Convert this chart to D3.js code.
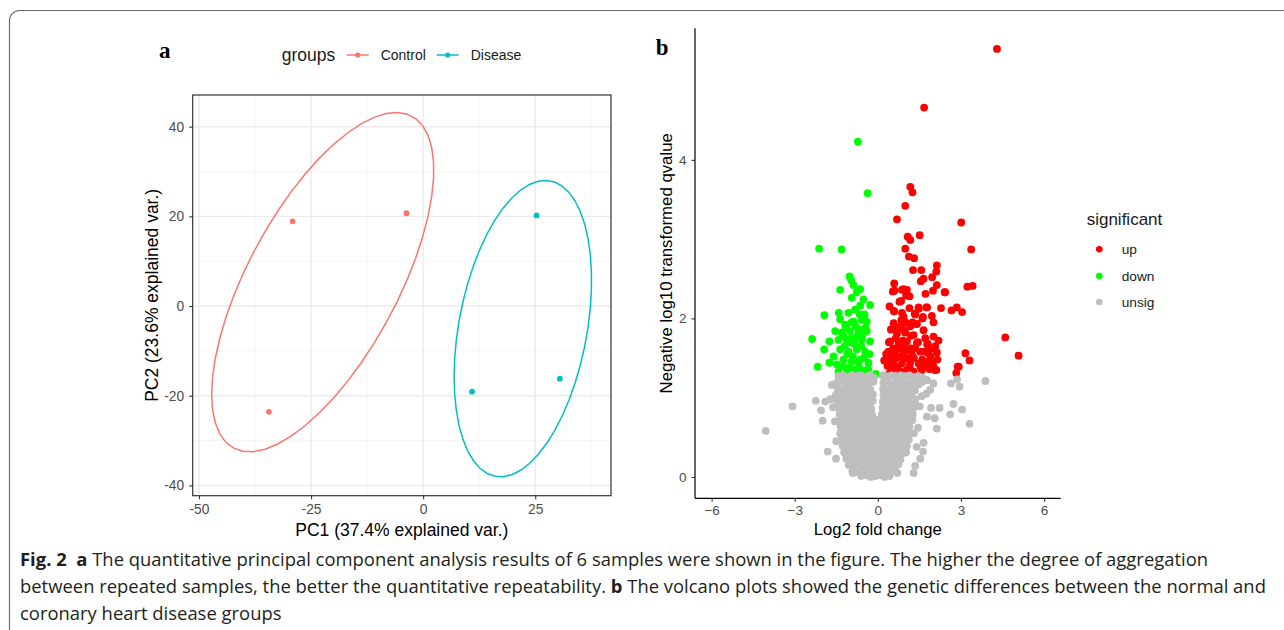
<!DOCTYPE html>
<html>
<head>
<meta charset="utf-8">
<script src="https://cdn.jsdelivr.net/npm/d3@7"></script>
<style>
  body { margin: 0; background: #fff; }
  svg { display: block; }
</style>
</head>
<body>
<svg id="fig" width="1284" height="630"></svg>
<script>
// ---------- Panel a: PCA scores ----------
const groups = ["Control", "Disease"];
const groupColors = ["#F8766D", "#00BFC4"];
const pcaControl = [[-29.1, 18.9], [-3.7, 20.7], [-34.4, -23.6]];
const pcaDisease = [[25.3, 20.2], [10.9, -19.1], [30.5, -16.2]];
const pcaXTicks = [-50, -25, 0, 25];
const pcaYTicks = [-40, -20, 0, 20, 40];
const pcaXMinor = [-37.5, -12.5, 12.5, 37.5];
const pcaYMinor = [-30, -10, 10, 30];

// ---------- Panel b: volcano plot (log2 fold change, -log10 qvalue) ----------
const volcanoUp = [
  [4.30,5.40],[1.67,4.66],[1.17,3.66],[1.25,3.59],[0.99,3.42],[0.69,3.25],[3.01,3.21],[1.51,3.05],
  [1.08,3.03],[1.17,2.99],[0.99,2.88],[3.37,2.87],[1.12,2.78],[1.31,2.76],[1.27,2.61],[1.57,2.61],
  [2.13,2.67],[2.11,2.59],[1.96,2.52],[1.65,2.50],[1.55,2.47],[0.59,2.44],[2.13,2.42],[3.42,2.41],
  [3.23,2.40],[0.87,2.36],[1.05,2.36],[1.99,2.35],[2.41,2.33],[0.60,2.35],[1.72,2.31],[1.02,2.29],
  [0.93,2.37],[0.54,2.34],[1.14,2.28],[0.84,2.22],[2.43,2.33],
  [0.42,2.15],[0.59,2.09],[0.87,2.07],[1.14,2.13],[1.47,2.14],[1.78,2.14],[2.28,2.13],[2.85,2.14],
  [2.66,2.10],[3.04,2.08],[1.35,2.05],[1.63,2.02],[1.95,2.03],[2.01,1.95],[0.93,2.02],[0.57,1.94],
  [0.87,1.92],[1.17,1.90],[1.41,1.93],[0.47,1.86],[0.69,1.81],[0.99,1.82],[1.29,1.79],[1.71,1.75],
  [2.01,1.77],[2.19,1.72],[0.45,1.71],[0.75,1.69],[1.05,1.71],[1.41,1.69],[1.78,1.67],[2.07,1.65],
  [0.38,1.58],[0.62,1.56],[0.93,1.58],[1.23,1.54],[1.53,1.58],[1.83,1.56],[2.13,1.57],[0.23,1.47],
  [0.57,1.45],[0.87,1.43],[1.17,1.45],[1.47,1.43],[1.71,1.45],[1.95,1.44],[0.51,1.35],[0.81,1.33],
  [1.05,1.35],[1.29,1.33],[1.59,1.35],[1.86,1.36],[2.11,1.35],[2.88,1.39],[2.83,1.31],[4.60,1.76],
  [5.08,1.53],[3.16,1.56],[3.31,1.47],[2.92,1.39],[0.42,1.31],[2.06,1.35],[1.39,1.93],[0.58,2.09],
  [1.33,2.06],[1.61,2.00],[0.78,2.21],[1.48,2.12],[1.75,2.14],
  [0.35,1.40],[0.45,1.52],[0.55,1.62],[0.65,1.75],[0.75,1.88],[0.85,1.98],[0.95,1.65],[1.00,1.50],
  [1.10,1.60],[1.20,1.78],[1.25,1.95],[0.70,1.38],[0.80,1.52],[0.90,1.72],[1.30,1.50],[1.35,1.62],
  [1.60,1.48],[1.70,1.58],[1.80,1.68],[1.90,1.52],[2.00,1.40],[2.05,1.62],[1.45,1.70],[0.60,1.90],
  [0.50,1.45],[0.40,1.70],[1.15,1.40],[1.55,1.38],[1.65,1.85],[0.30,1.55],[0.65,1.50],[0.95,1.85],
  [1.10,1.32],[0.70,1.62],[1.00,1.95],[1.20,1.62],[0.85,1.62],[1.75,1.40],[1.88,1.62],[2.15,1.48]
];
const volcanoDown = [
  [-0.72,4.23],[-0.37,3.58],[-2.12,2.88],[-1.31,2.87],[-1.02,2.53],[-0.96,2.48],[-0.88,2.42],[-1.36,2.36],
  [-0.64,2.37],[-0.76,2.33],[-0.94,2.26],[-0.52,2.24],[-0.28,2.17],[-0.64,2.16],[-1.93,2.04],[-1.41,2.07],
  [-1.06,2.07],[-0.82,2.11],[-1.36,1.99],[-1.18,1.92],[-0.88,1.96],[-0.58,1.98],[-0.40,1.96],[-1.54,1.84],
  [-1.30,1.82],[-1.00,1.84],[-0.70,1.86],[-0.40,1.84],[-2.37,1.74],[-1.75,1.71],[-1.42,1.73],[-1.12,1.73],
  [-0.82,1.73],[-0.58,1.73],[-0.28,1.71],[-1.94,1.61],[-1.36,1.61],[-1.06,1.58],[-0.76,1.61],[-0.46,1.58],
  [-1.75,1.44],[-2.17,1.39],[-1.48,1.42],[-1.24,1.48],[-0.94,1.46],[-0.64,1.48],[-0.34,1.44],[-1.42,1.33],
  [-1.12,1.35],[-0.82,1.35],[-0.54,1.34],[-0.07,1.30],
  [-1.00,1.38],[-0.90,1.52],[-0.70,1.45],[-0.60,1.65],[-0.75,1.78],[-0.85,1.68],[-1.10,1.55],[-1.20,1.65],
  [-0.50,1.50],[-0.45,1.88],[-0.95,1.95],[-1.15,1.88],[-0.65,2.05],[-1.25,1.40],[-1.60,1.52],[-0.35,1.36],
  [-0.80,1.90],[-1.05,1.70],[-0.68,1.38],[-0.30,1.55],[-0.55,1.80],[-0.95,1.75],[-1.25,1.78],[-0.48,2.05]
];
const volcanoUnsig = [
  [-1.42,1.27],[-1.25,1.28],[-1.08,1.26],[-0.92,1.28],[-0.76,1.27],[-0.60,1.28],[-0.44,1.26],[-0.28,1.28],
  [-0.14,1.25],[0.18,1.28],[0.34,1.27],[0.50,1.28],[0.66,1.26],[0.82,1.28],[0.98,1.27],[1.14,1.28],
  [1.30,1.26],[1.46,1.27],[1.62,1.25],[1.78,1.22],
  [-1.48,1.19],[-1.31,1.20],[-1.14,1.18],[-0.97,1.20],[-0.80,1.19],[-0.63,1.20],[-0.46,1.18],[-0.30,1.19],
  [-0.16,1.20],[0.20,1.19],[0.36,1.20],[0.52,1.18],[0.68,1.20],[0.84,1.19],[1.00,1.20],[1.16,1.18],
  [1.32,1.19],[1.48,1.17],
  [-1.45,1.11],[-1.28,1.10],[-1.11,1.12],[-0.94,1.11],[-0.77,1.10],[-0.60,1.12],[-0.43,1.11],[-0.27,1.10],
  [-0.18,1.04],[0.19,1.11],[0.35,1.10],[0.52,1.12],[0.68,1.11],[0.85,1.10],[1.01,1.12],[1.18,1.11],[1.34,1.09],
  [-1.52,1.03],[-1.35,1.02],[-1.18,1.04],[-1.01,1.03],[-0.84,1.02],[-0.67,1.04],[-0.50,1.03],[-0.33,1.02],
  [0.20,1.03],[0.36,1.02],[0.53,1.04],[0.70,1.03],[0.86,1.02],[1.03,1.04],[1.20,1.01],[1.36,0.98],
  [-1.47,0.95],[-1.30,0.94],[-1.13,0.96],[-0.96,0.95],[-0.79,0.94],[-0.62,0.96],[-0.45,0.95],[-0.29,0.94],
  [-0.18,0.96],[0.18,0.95],[0.34,0.94],[0.51,0.96],[0.67,0.95],[0.84,0.94],[1.00,0.96],[1.16,0.93],[1.32,0.95],
  [-1.42,0.87],[-1.25,0.86],[-1.08,0.88],[-0.91,0.87],[-0.74,0.86],[-0.57,0.88],[-0.40,0.87],[-0.24,0.86],
  [0.17,0.87],[0.33,0.86],[0.49,0.88],[0.66,0.87],[0.82,0.86],[0.98,0.88],[1.12,0.85],[1.28,0.87],
  [-1.38,0.79],[-1.21,0.78],[-1.04,0.80],[-0.87,0.79],[-0.70,0.78],[-0.53,0.80],[-0.36,0.79],[-0.20,0.78],
  [0.14,0.79],[0.30,0.78],[0.47,0.80],[0.63,0.79],[0.80,0.78],[0.96,0.80],[1.10,0.77],[1.26,0.79],
  [-1.36,0.71],[-1.19,0.70],[-1.02,0.72],[-0.85,0.71],[-0.68,0.70],[-0.51,0.72],[-0.34,0.71],[-0.17,0.70],
  [-0.04,0.72],[0.12,0.71],[0.28,0.70],[0.45,0.72],[0.61,0.71],[0.78,0.70],[0.94,0.72],[1.06,0.69],[1.22,0.71],
  [-1.34,0.63],[-1.17,0.62],[-1.00,0.64],[-0.83,0.63],[-0.66,0.62],[-0.49,0.64],[-0.32,0.63],[-0.16,0.62],
  [0.00,0.64],[0.16,0.63],[0.32,0.62],[0.49,0.64],[0.65,0.63],[0.82,0.62],[0.98,0.64],[1.14,0.63],
  [-1.36,0.55],[-1.19,0.54],[-1.02,0.56],[-0.85,0.55],[-0.68,0.54],[-0.51,0.56],[-0.34,0.55],[-0.17,0.54],
  [0.00,0.56],[0.16,0.55],[0.33,0.54],[0.49,0.56],[0.66,0.55],[0.82,0.54],[0.97,0.56],[1.13,0.55],
  [-1.32,0.47],[-1.15,0.46],[-0.98,0.48],[-0.81,0.47],[-0.64,0.46],[-0.47,0.48],[-0.30,0.47],[-0.13,0.46],
  [0.04,0.48],[0.20,0.47],[0.37,0.46],[0.53,0.48],[0.70,0.47],[0.86,0.46],[0.96,0.48],[1.12,0.47],
  [-1.27,0.39],[-1.10,0.38],[-0.93,0.40],[-0.76,0.39],[-0.59,0.38],[-0.42,0.40],[-0.25,0.39],[-0.08,0.38],
  [0.09,0.40],[0.25,0.39],[0.42,0.38],[0.58,0.40],[0.75,0.39],[0.90,0.38],[1.05,0.39],
  [-1.22,0.31],[-1.05,0.30],[-0.88,0.32],[-0.71,0.31],[-0.54,0.30],[-0.37,0.32],[-0.20,0.31],[-0.03,0.30],
  [0.14,0.32],[0.30,0.31],[0.47,0.30],[0.63,0.32],[0.80,0.31],[0.92,0.30],[1.02,0.31],
  [-1.14,0.23],[-0.97,0.22],[-0.80,0.24],[-0.63,0.23],[-0.46,0.22],[-0.29,0.24],[-0.12,0.23],[0.05,0.22],
  [0.22,0.24],[0.38,0.23],[0.55,0.22],[0.71,0.24],[0.82,0.22],
  [-1.05,0.15],[-0.88,0.14],[-0.71,0.16],[-0.54,0.15],[-0.37,0.14],[-0.20,0.16],[-0.03,0.15],[0.14,0.14],
  [0.31,0.16],[0.47,0.15],[0.64,0.14],[0.74,0.16],
  [-0.92,0.07],[-0.75,0.06],[-0.58,0.08],[-0.41,0.07],[-0.24,0.06],[-0.07,0.08],[0.10,0.07],[0.27,0.06],
  [0.44,0.08],[0.60,0.07],[0.70,0.05],
  [-0.60,0.01],[-0.43,0.02],[-0.26,0.00],[-0.09,0.01],[0.08,0.02],[0.25,0.00],[0.42,0.01],
  [-4.05,0.58],[-3.08,0.89],[-1.99,0.71],[-2.05,0.84],[-2.24,0.96],[-1.66,1.16],[-1.81,0.32],[-1.51,0.23],
  [-0.90,0.05],[3.88,1.21],[2.95,1.14],[2.64,1.18],[2.86,1.23],[3.04,0.85],[2.73,0.92],[2.61,0.79],
  [3.31,0.67],[2.23,0.87],[2.05,0.74],[2.13,0.61],[1.92,0.87],[1.77,0.76],[1.65,0.43],[1.63,0.32],
  [1.53,0.23],[1.35,0.14],[1.29,0.05],[2.01,1.18],[1.89,1.10],[1.59,1.02],[1.51,0.89],[-1.90,0.95],
  [-1.72,0.98],[-1.62,0.88],[-1.55,0.70],[-1.50,0.45],[1.30,0.55],[1.40,0.38],[1.25,0.72],[1.45,0.62],
  [1.60,1.20],[1.75,1.05]
];
const volcanoXTicks = [-6, -3, 0, 3, 6];
const volcanoYTicks = [0, 2, 4];
const sigLevels = ["up", "down", "unsig"];
const sigColors = ["#FF0000", "#00FF00", "#BEBEBE"];

// ---------- Caption ----------
const captionLines = [
  [{t: "Fig. 2", b: true}, {t: "  a", b: true}, {t: " The quantitative principal component analysis results of 6 samples were shown in the figure. The higher the degree of aggregation", b: false}],
  [{t: "between repeated samples, the better the quantitative repeatability. ", b: false}, {t: "b", b: true}, {t: " The volcano plots showed the genetic differences between the normal and", b: false}],
  [{t: "coronary heart disease groups", b: false}]
];

const SANS = "'Liberation Sans', Arial, Helvetica, sans-serif";
const SERIF = "'Liberation Serif', 'Times New Roman', serif";
const svg = d3.select("#fig");
svg.append("rect").attr("width", 1284).attr("height", 630).attr("fill", "#fff");

// Figure frame with rounded corner
svg.append("rect")
  .attr("x", 9.5).attr("y", 10.5).attr("width", 1300).attr("height", 700)
  .attr("rx", 10).attr("fill", "none").attr("stroke", "#6b6b6b").attr("stroke-width", 1.2);

// ===== Panel a =====
const xa = d3.scaleLinear().domain([-51.4, 41.9]).range([192.7, 611]);
const ya = d3.scaleLinear().domain([-42.3, 47.07]).range([495.7, 95]);
const pa = svg.append("g");

pa.selectAll("line.gxm").data(pcaXMinor).join("line")
  .attr("x1", d => xa(d)).attr("x2", d => xa(d)).attr("y1", ya.range()[0]).attr("y2", ya.range()[1])
  .attr("stroke", "#F2F2F2").attr("stroke-width", 0.8);
pa.selectAll("line.gym").data(pcaYMinor).join("line")
  .attr("y1", d => ya(d)).attr("y2", d => ya(d)).attr("x1", xa.range()[0]).attr("x2", xa.range()[1])
  .attr("stroke", "#F2F2F2").attr("stroke-width", 0.8);
pa.selectAll("line.gx").data(pcaXTicks).join("line")
  .attr("x1", d => xa(d)).attr("x2", d => xa(d)).attr("y1", ya.range()[0]).attr("y2", ya.range()[1])
  .attr("stroke", "#EBEBEB").attr("stroke-width", 1.4);
pa.selectAll("line.gy").data(pcaYTicks).join("line")
  .attr("y1", d => ya(d)).attr("y2", d => ya(d)).attr("x1", xa.range()[0]).attr("x2", xa.range()[1])
  .attr("stroke", "#EBEBEB").attr("stroke-width", 1.4);

// 68% normal-probability ellipse around each group's scores
function normalEllipse(pts, prob = 0.68, n = 50) {
  const mx = d3.mean(pts, d => d[0]), my = d3.mean(pts, d => d[1]);
  let sxx = 0, syy = 0, sxy = 0;
  pts.forEach(([x, y]) => { sxx += (x - mx) ** 2; syy += (y - my) ** 2; sxy += (x - mx) * (y - my); });
  const k = pts.length - 1;
  sxx /= k; syy /= k; sxy /= k;
  const r11 = Math.sqrt(sxx), r12 = sxy / r11, r22 = Math.sqrt(syy - r12 * r12);
  const ed = Math.sqrt(-2 * Math.log(1 - prob)); // sqrt of chi-square quantile, 2 df
  return d3.range(n).map(i => {
    const t = -Math.PI + 2 * Math.PI * i / (n - 1);
    const c = Math.cos(t), s = Math.sin(t);
    return [mx + ed * c * r11, my + ed * (c * r12 + s * r22)];
  });
}
const pcaSets = [pcaControl, pcaDisease];
const lineA = d3.line().x(d => xa(d[0])).y(d => ya(d[1]));
pcaSets.forEach((pts, i) => {
  pa.append("path").attr("d", lineA(normalEllipse(pts)))
    .attr("fill", "none").attr("stroke", groupColors[i]).attr("stroke-width", 1.5);
});
pcaSets.forEach((pts, i) => {
  pa.selectAll(null).data(pts).join("circle")
    .attr("cx", d => xa(d[0])).attr("cy", d => ya(d[1])).attr("r", 2.9)
    .attr("fill", groupColors[i]);
});

pa.append("rect")
  .attr("x", xa.range()[0]).attr("y", ya.range()[1])
  .attr("width", xa.range()[1] - xa.range()[0]).attr("height", ya.range()[0] - ya.range()[1])
  .attr("fill", "none").attr("stroke", "#333333").attr("stroke-width", 1.2);

function styleAxis(g, labelColor, tickColor, fontSize) {
  g.select(".domain").remove();
  g.selectAll(".tick line").attr("stroke", tickColor).attr("stroke-width", 1.1);
  g.selectAll(".tick text").attr("fill", labelColor).attr("font-family", SANS).attr("font-size", fontSize);
}
pa.append("g").attr("transform", `translate(0,${ya.range()[0]})`)
  .call(d3.axisBottom(xa).tickValues(pcaXTicks).tickSize(3.5).tickPadding(5.5).tickFormat(d => String(d)))
  .call(g => styleAxis(g, "#4D4D4D", "#333333", 13.8));
pa.append("g").attr("transform", `translate(${xa.range()[0]},0)`)
  .call(d3.axisLeft(ya).tickValues(pcaYTicks).tickSize(3.5).tickPadding(5).tickFormat(d => String(d)))
  .call(g => styleAxis(g, "#4D4D4D", "#333333", 13.8));

pa.append("text").attr("x", (xa.range()[0] + xa.range()[1]) / 2).attr("y", 536)
  .attr("text-anchor", "middle").attr("font-family", SANS).attr("font-size", 17.5).attr("fill", "#000")
  .text("PC1 (37.4% explained var.)");
pa.append("text").attr("transform", `translate(158,${(ya.range()[0] + ya.range()[1]) / 2}) rotate(-90)`)
  .attr("text-anchor", "middle").attr("font-family", SANS).attr("font-size", 17.5).attr("fill", "#000")
  .text("PC2 (23.6% explained var.)");

// legend on top
const legA = svg.append("g");
legA.append("text").attr("x", 281.7).attr("y", 61).attr("font-family", SANS).attr("font-size", 17.5)
  .attr("fill", "#1a1a1a").text("groups");
const legKeyX = [346.7, 436.7], legTextX = [380.7, 470.7];
groups.forEach((g, i) => {
  legA.append("line").attr("x1", legKeyX[i]).attr("x2", legKeyX[i] + 22).attr("y1", 55).attr("y2", 55)
    .attr("stroke", groupColors[i]).attr("stroke-width", 1.5);
  legA.append("circle").attr("cx", legKeyX[i] + 11).attr("cy", 55).attr("r", 2.6).attr("fill", groupColors[i]);
  legA.append("text").attr("x", legTextX[i]).attr("y", 60).attr("font-family", SANS).attr("font-size", 14)
    .attr("fill", "#1a1a1a").text(g);
});

svg.append("text").attr("x", 159).attr("y", 58).attr("font-family", SERIF).attr("font-weight", "bold")
  .attr("font-size", 23).attr("fill", "#000").text("a");

// ===== Panel b =====
const xb = d3.scaleLinear().domain([-6.6, 6.6]).range([695, 1060.7]);
const yb = d3.scaleLinear().domain([-0.27, 5.66]).range([498.3, 28.3]);
const pb = svg.append("g");
const dotR = 3.9;

const sigSets = [volcanoUp, volcanoDown];
sigSets.forEach((pts, i) => {
  pb.selectAll(null).data(pts).join("circle")
    .attr("cx", d => xb(d[0])).attr("cy", d => yb(d[1])).attr("r", dotR).attr("fill", sigColors[i]);
});
pb.selectAll(null).data(volcanoUnsig).join("circle")
  .attr("cx", d => xb(d[0])).attr("cy", d => yb(d[1])).attr("r", dotR).attr("fill", sigColors[2]);

const minusFmt = d => (d < 0 ? "\u2212" + Math.abs(d) : String(d));
const axB = pb.append("g").attr("transform", `translate(0,${yb.range()[0]})`)
  .call(d3.axisBottom(xb).tickValues(volcanoXTicks).tickSize(3.5).tickPadding(4).tickFormat(minusFmt));
axB.select(".domain").attr("stroke", "#000").attr("stroke-width", 1.2).attr("d", `M${xb.range()[0]},0H${xb.range()[1]}`);
axB.selectAll(".tick line").attr("stroke", "#333").attr("stroke-width", 1.1);
axB.selectAll(".tick text").attr("fill", "#4D4D4D").attr("font-family", SANS).attr("font-size", 13.5);
const ayB = pb.append("g").attr("transform", `translate(${xb.range()[0]},0)`)
  .call(d3.axisLeft(yb).tickValues(volcanoYTicks).tickSize(3.5).tickPadding(5).tickFormat(d => String(d)));
ayB.select(".domain").attr("stroke", "#000").attr("stroke-width", 1.2).attr("d", `M0,${yb.range()[0]}V${yb.range()[1]}`);
ayB.selectAll(".tick line").attr("stroke", "#333").attr("stroke-width", 1.1);
ayB.selectAll(".tick text").attr("fill", "#4D4D4D").attr("font-family", SANS).attr("font-size", 13.5);

pb.append("text").attr("x", (xb.range()[0] + xb.range()[1]) / 2).attr("y", 535)
  .attr("text-anchor", "middle").attr("font-family", SANS).attr("font-size", 16.7).attr("fill", "#000")
  .text("Log2 fold change");
pb.append("text").attr("transform", `translate(672,${(yb.range()[0] + yb.range()[1]) / 2}) rotate(-90)`)
  .attr("text-anchor", "middle").attr("font-family", SANS).attr("font-size", 16.8).attr("fill", "#000")
  .text("Negative log10 transformed qvalue");

const legB = svg.append("g");
legB.append("text").attr("x", 1086.7).attr("y", 225).attr("font-family", SANS).attr("font-size", 17)
  .attr("fill", "#1a1a1a").text("significant");
const legBY = [249.3, 276, 302];
sigLevels.forEach((s, i) => {
  legB.append("circle").attr("cx", 1099.3).attr("cy", legBY[i]).attr("r", 3.3).attr("fill", sigColors[i]);
  legB.append("text").attr("x", 1121.7).attr("y", legBY[i] + 5).attr("font-family", SANS).attr("font-size", 13.7)
    .attr("fill", "#1a1a1a").text(s);
});

svg.append("text").attr("x", 655.7).attr("y", 55).attr("font-family", SERIF).attr("font-weight", "bold")
  .attr("font-size", 23).attr("fill", "#000").text("b");

// ===== Caption =====
const cap = svg.append("g");
const capBase = [566, 593.5, 620];
const capTexts = captionLines.map((parts, li) => {
  const t = cap.append("text").attr("x", 0).attr("y", capBase[li])
    .attr("font-family", "'Open Sans', 'Noto Sans', sans-serif").attr("font-size", 18.5).attr("fill", "#231F20")
    .attr("xml:space", "preserve").style("white-space", "pre");
  parts.forEach(p => t.append("tspan").attr("font-weight", p.b ? "bold" : "normal").text(p.t));
  return t;
});
const natural = capTexts[0].node().getComputedTextLength();
const sx = (1209 - 20) / natural;
cap.attr("transform", `translate(20,0) scale(${sx},1)`);
</script>
</body>
</html>
